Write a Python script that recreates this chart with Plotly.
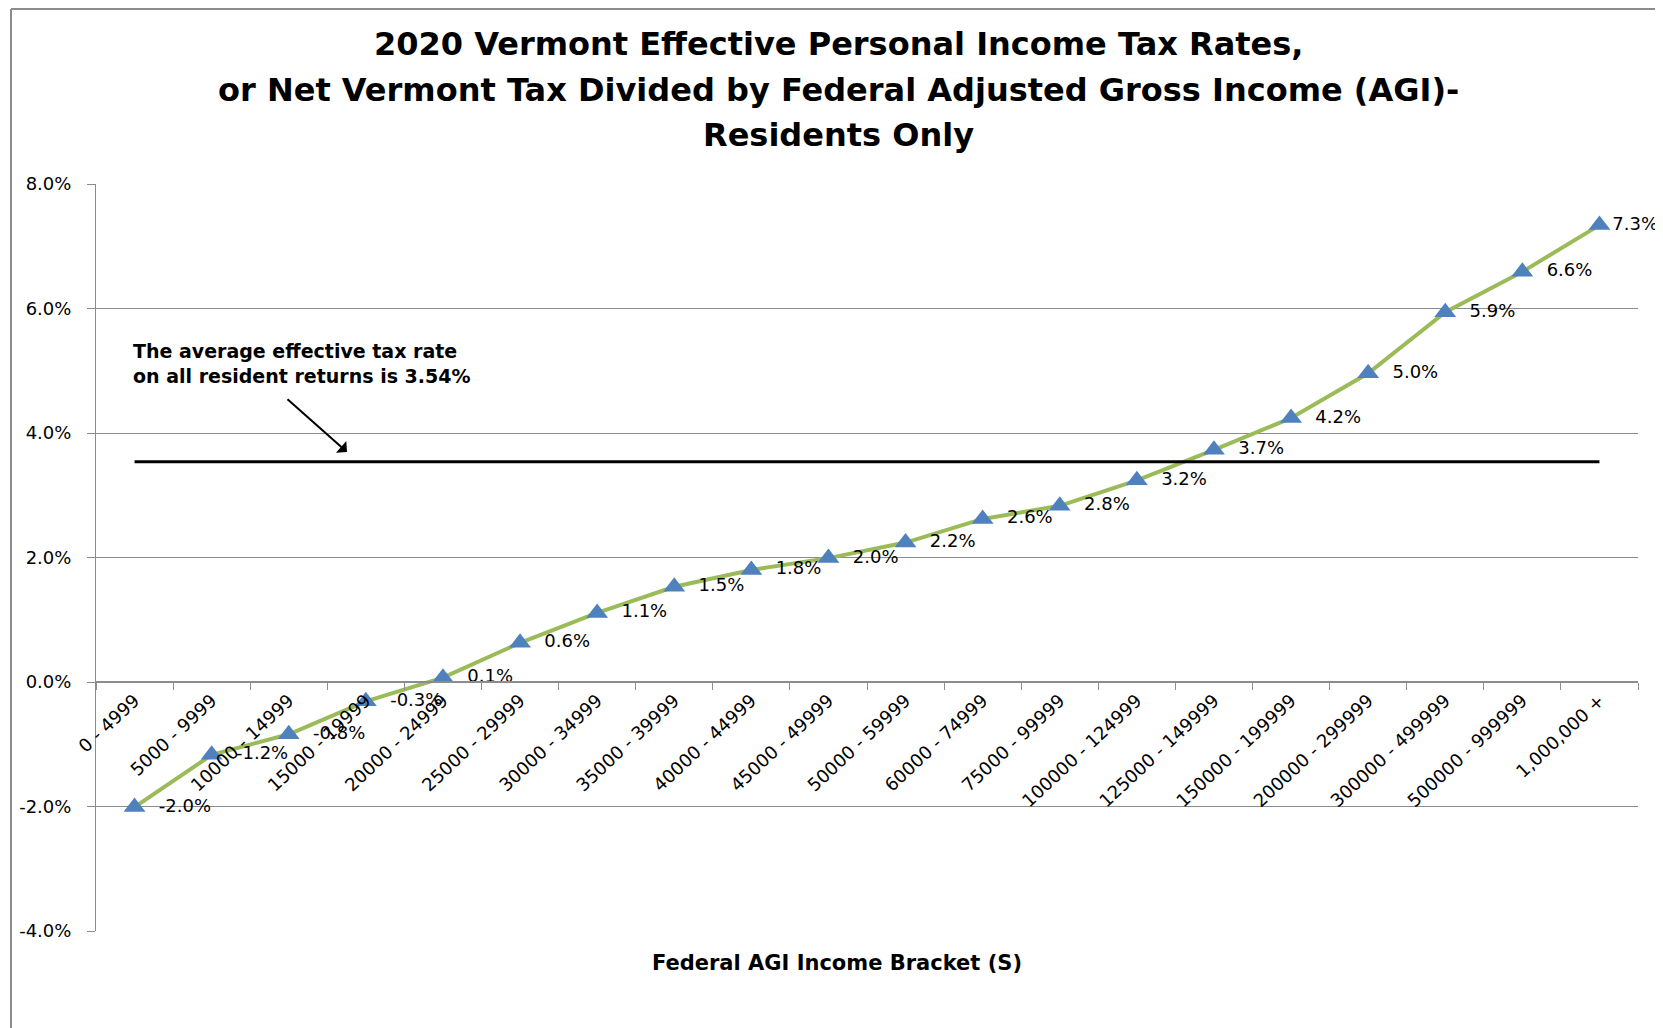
import plotly.graph_objects as go

categories = ["0 - 4999", "5000 - 9999", "10000 - 14999", "15000 - 19999", "20000 - 24999",
              "25000 - 29999", "30000 - 34999", "35000 - 39999", "40000 - 44999", "45000 - 49999",
              "50000 - 59999", "60000 - 74999", "75000 - 99999", "100000 - 124999", "125000 - 149999",
              "150000 - 199999", "200000 - 299999", "300000 - 499999", "500000 - 999999", "1,000,000 +"]
rates = [-2.01, -1.17, -0.84, -0.31, 0.07, 0.63, 1.11, 1.53, 1.80, 1.99,
         2.24, 2.62, 2.83, 3.24, 3.73, 4.24, 4.96, 5.94, 6.59, 7.34]
average_rate = 3.54
y_ticks = [-4, -2, 0, 2, 4, 6, 8]
y_tick_text = ["-4.0%", "-2.0%", "0.0%", "2.0%", "4.0%", "6.0%", "8.0%"]
y_range = [-4, 8]

title_lines = ["2020 Vermont Effective Personal Income Tax Rates,",
               "or Net Vermont Tax Divided by Federal Adjusted Gross Income (AGI)-",
               "Residents Only"]
note_text = "The average effective tax rate<br>on all resident returns is 3.54%"
x_title = "Federal AGI Income Bracket (S)"

FONT = "DejaVu Sans"
GRID = "#8c8c8c"

# page body has an 8px margin; lay out in reference pixel coordinates
OFF = 8
PL, PR, PT, PB = 96, 1638, 184, 931        # plot area in reference pixels
W, H = 1663 - OFF, 1028 - OFF
ML, MT = PL - OFF, PT - OFF
PW, PH = PR - PL, PB - PT
MR = W - ML - PW
MB = H - MT - PH

def px_x(px):
    return (px - PL) / PW

def px_y(py):
    return (PB - py) / PH

labels = [("  " if i < len(rates) - 1 else "") + f"{v:.1f}%" for i, v in enumerate(rates)]

fig = go.Figure()

fig.add_trace(go.Scatter(
    x=categories, y=rates, mode="lines+markers+text",
    line=dict(color="#9BBB59", width=4),
    marker=dict(symbol="triangle-up", size=19, color="#4F81BD"),
    text=labels, textposition="middle right",
    textfont=dict(family=FONT, size=18, color="black"),
    cliponaxis=False, showlegend=False))

fig.add_trace(go.Scatter(
    x=[categories[0], categories[-1]], y=[average_rate, average_rate],
    mode="lines", line=dict(color="black", width=3), hoverinfo="skip", showlegend=False))

zero_pos = (0 - y_range[0]) / (y_range[1] - y_range[0])

fig.update_layout(
    width=W, height=H,
    margin=dict(l=ML, r=MR, t=MT, b=MB),
    paper_bgcolor="white", plot_bgcolor="white",
    font=dict(family=FONT, color="black"),
    xaxis=dict(type="category", categoryorder="array", categoryarray=categories,
               range=[-0.5, len(categories) - 0.5],
               anchor="free", position=zero_pos,
               showline=True, linecolor=GRID, linewidth=2,
               ticks="outside", tickson="boundaries", ticklen=7, tickcolor=GRID,
               tickangle=-43, tickfont=dict(family=FONT, size=18, color="black"),
               showgrid=False, zeroline=False),
    yaxis=dict(range=y_range, tickvals=y_ticks, ticktext=y_tick_text,
               showline=True, linecolor=GRID, linewidth=1,
               ticks="outside", ticklen=8, tickcolor=GRID, ticklabelstandoff=12,
               showgrid=True, gridcolor=GRID, gridwidth=1, zeroline=False,
               tickfont=dict(family=FONT, size=18, color="black")),
)

title_y_px = [44.5, 90, 135]
for line, py in zip(title_lines, title_y_px):
    fig.add_annotation(text=f"<b>{line}</b>", xref="paper", yref="paper",
                       x=px_x(838), y=px_y(py), xanchor="center", yanchor="middle",
                       showarrow=False, font=dict(family=FONT, size=32, color="black"))

fig.add_annotation(text=f"<b>{x_title}</b>", xref="paper", yref="paper",
                   x=px_x(837), y=px_y(963), xanchor="center", yanchor="middle",
                   showarrow=False, font=dict(family=FONT, size=21, color="black"))

fig.add_annotation(text=f"<b>{note_text}</b>", xref="paper", yref="paper",
                   x=px_x(131), y=px_y(338), xanchor="left", yanchor="top",
                   align="left", showarrow=False, font=dict(family=FONT, size=19, color="black"))

fig.add_annotation(text="", xref="paper", yref="paper",
                   x=px_x(347), y=px_y(452),
                   ax=-61, ay=-54, showarrow=True, arrowhead=1, arrowsize=1.3,
                   arrowwidth=2, arrowcolor="black")

# chart area frame (left and top edges)
fig.add_shape(type="line", xref="paper", yref="paper",
              x0=px_x(11), x1=px_x(11), y0=px_y(OFF + 1), y1=px_y(1028),
              line=dict(color=GRID, width=2))
fig.add_shape(type="line", xref="paper", yref="paper",
              x0=px_x(11), x1=px_x(1663), y0=px_y(OFF + 1), y1=px_y(OFF + 1),
              line=dict(color=GRID, width=2))

fig.write_html("out.html")
